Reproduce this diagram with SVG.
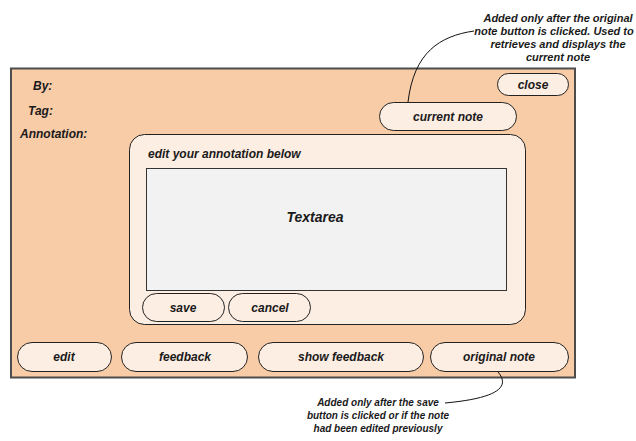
<svg xmlns="http://www.w3.org/2000/svg" width="636" height="441" viewBox="0 0 636 441">
<style>
text{font-family:"Liberation Sans",Arial,sans-serif;font-weight:bold;font-style:italic;fill:#1a1a1a}
.lbl{font-size:12px}
.mid{text-anchor:middle}
.btn{fill:#fdeee3;stroke:#222;stroke-width:1}
.note{font-size:11px;text-anchor:middle}
.note2{font-size:10px;text-anchor:middle}
.conn{fill:none;stroke:#111;stroke-width:1}
</style>
<rect width="636" height="441" fill="#ffffff"/>
<g id="panel">
<rect x="11" y="68.5" width="564" height="309" fill="#f9cca8" stroke="#4d4d4d" stroke-width="2"/>
<text class="lbl" x="33" y="90">By:</text>
<text class="lbl" x="28" y="115">Tag:</text>
<text class="lbl" x="20" y="138">Annotation:</text>
</g>
<g id="close">
<rect class="btn" x="497.5" y="73.5" width="71" height="22" rx="11"/>
<text class="lbl mid" x="533" y="89">close</text>
</g>
<g id="current-note">
<rect class="btn" x="379.5" y="102.5" width="137" height="28" rx="14"/>
<text class="lbl mid" x="448" y="121">current note</text>
</g>
<g id="editor">
<rect x="129.5" y="134.5" width="396" height="190" rx="15" fill="#fdeee3" stroke="#222" stroke-width="1"/>
<text class="lbl" x="148" y="158">edit your annotation below</text>
</g>
<g id="textarea">
<rect x="146.5" y="168.5" width="360" height="122" fill="#f2f2f2" stroke="#333" stroke-width="1"/>
<text class="mid" x="315" y="222" font-size="14">Textarea</text>
</g>
<g id="save">
<rect class="btn" x="142.5" y="293.5" width="82" height="28" rx="14"/>
<text class="lbl mid" x="183" y="312">save</text>
</g>
<g id="cancel">
<rect class="btn" x="228.5" y="293.5" width="82" height="28" rx="14"/>
<text class="lbl mid" x="270" y="312">cancel</text>
</g>
<g id="edit">
<rect class="btn" x="17.5" y="342.5" width="94" height="29" rx="14.5"/>
<text class="lbl mid" x="64" y="361">edit</text>
</g>
<g id="feedback">
<rect class="btn" x="121.5" y="342.5" width="126" height="29" rx="14.5"/>
<text class="lbl mid" x="185" y="361">feedback</text>
</g>
<g id="show-feedback">
<rect class="btn" x="258.5" y="342.5" width="165" height="29" rx="14.5"/>
<text class="lbl mid" x="341" y="361">show feedback</text>
</g>
<g id="original-note">
<rect class="btn" x="430.5" y="342.5" width="138" height="29" rx="14.5"/>
<text class="lbl mid" x="499" y="361">original note</text>
</g>
<g id="note-top">
<text class="note" x="558" y="22">Added only after the original</text>
<text class="note" x="554" y="35">note button is clicked. Used to</text>
<text class="note" x="558" y="48">retrieves and displays the</text>
<text class="note" x="558" y="61">current note</text>
</g>
<g id="note-bottom">
<text class="note2" x="378" y="406">Added only after the save</text>
<text class="note2" x="378" y="419">button is clicked or if the note</text>
<text class="note2" x="378" y="432">had been edited previously</text>
</g>
<g id="connectors">
<path class="conn" d="M408,102 C414,52 440,36 474,31"/>
<path class="conn" d="M498,372 C510,386 500,398 445,403"/>
</g>
</svg>
